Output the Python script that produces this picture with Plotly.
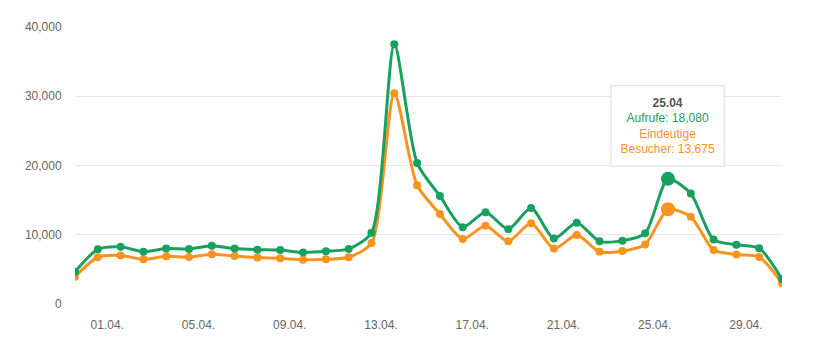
import pandas as pd
import plotly.graph_objects as go

# ---- data ----
dates = ["2024-03-30", "2024-03-31"] + [f"2024-04-{d:02d}" for d in range(1, 31)]
aufrufe = [4650, 7900, 8250, 7550, 8000, 7950, 8400, 8000, 7850, 7780, 7450, 7600, 7950, 10300,
           37500, 20350, 15600, 11100, 13250, 10800, 13850, 9450, 11750, 9050, 9150, 10200,
           18080, 15950, 9300, 8550, 8050, 3600]
besucher = [3950, 6750, 7000, 6450, 6880, 6780, 7200, 6920, 6700, 6600, 6380, 6450, 6750, 8800,
            30450, 17150, 13000, 9400, 11300, 9050, 11650, 8000, 9950, 7550, 7650, 8600,
            13675, 12600, 7780, 7150, 6800, 3000]
tick_dates = ["2024-04-01", "2024-04-05", "2024-04-09", "2024-04-13",
              "2024-04-17", "2024-04-21", "2024-04-25", "2024-04-29"]
tick_labels = ["01.04.", "05.04.", "09.04.", "13.04.", "17.04.", "21.04.", "25.04.", "29.04."]
y_ticks = [0, 10000, 20000, 30000, 40000]
y_labels = ["0", "10,000", "20,000", "30,000", "40,000"]
highlight = "2024-04-25"
highlight_label = "25.04"
name_a = "Aufrufe"
name_b = "Eindeutige Besucher"

GREEN = "#18a05e"
ORANGE = "#f7931e"
FONT = "Liberation Sans, Arial, sans-serif"

x = pd.to_datetime(dates)
hi_idx = dates.index(highlight)
sizes = [14 if i == hi_idx else 8 for i in range(len(dates))]

fig = go.Figure()
fig.add_trace(go.Scatter(x=x, y=besucher, name=name_b, mode="lines+markers",
                         line=dict(color=ORANGE, width=3, shape="spline", smoothing=0.7),
                         marker=dict(color=ORANGE, size=sizes, opacity=1, line=dict(width=0))))
fig.add_trace(go.Scatter(x=x, y=aufrufe, name=name_a, mode="lines+markers",
                         line=dict(color=GREEN, width=3, shape="spline", smoothing=0.7),
                         marker=dict(color=GREEN, size=sizes, opacity=1, line=dict(width=0))))

tickvals = [pd.Timestamp(t) - pd.Timedelta(hours=14) for t in tick_dates]

tooltip = (f"<b>{highlight_label}</b><br>"
           f"<span style='color:{GREEN}'>Aufrufe: {aufrufe[hi_idx]:,}</span><br>"
           f"<span style='color:{ORANGE}'>Eindeutige<br>Besucher: {besucher[hi_idx]:,}</span>")
fig.add_annotation(x=x[hi_idx], y=aufrufe[hi_idx], text=tooltip, showarrow=False,
                   xanchor="center", yanchor="bottom", yshift=12,
                   bgcolor="white", bordercolor="#e6e6e6", borderwidth=1.5, borderpad=9,
                   font=dict(family=FONT, size=12, color="#555555"), align="center")

# page body has an 8px margin: figure is shifted by (8, 8)
fig.update_layout(
    width=817, height=355,
    margin=dict(l=67, r=43, t=13, b=59),
    paper_bgcolor="white", plot_bgcolor="white",
    showlegend=False,
    font=dict(family=FONT, size=12, color="#666666"),
    xaxis=dict(range=[x[0], x[-1]], tickvals=tickvals, ticktext=tick_labels,
               showgrid=False, zeroline=False, showline=False,
               ticks="outside", ticklen=10, tickcolor="rgba(0,0,0,0)",
               tickfont=dict(family=FONT, size=12, color="#666666")),
    yaxis=dict(range=[0, 40000], tickvals=y_ticks, ticktext=y_labels,
               showgrid=True, gridcolor="#e6e6e6", gridwidth=1, zeroline=False,
               ticks="outside", ticklen=10, tickcolor="rgba(0,0,0,0)",
               tickfont=dict(family=FONT, size=12, color="#666666")),
)

fig.write_html("out.html")
